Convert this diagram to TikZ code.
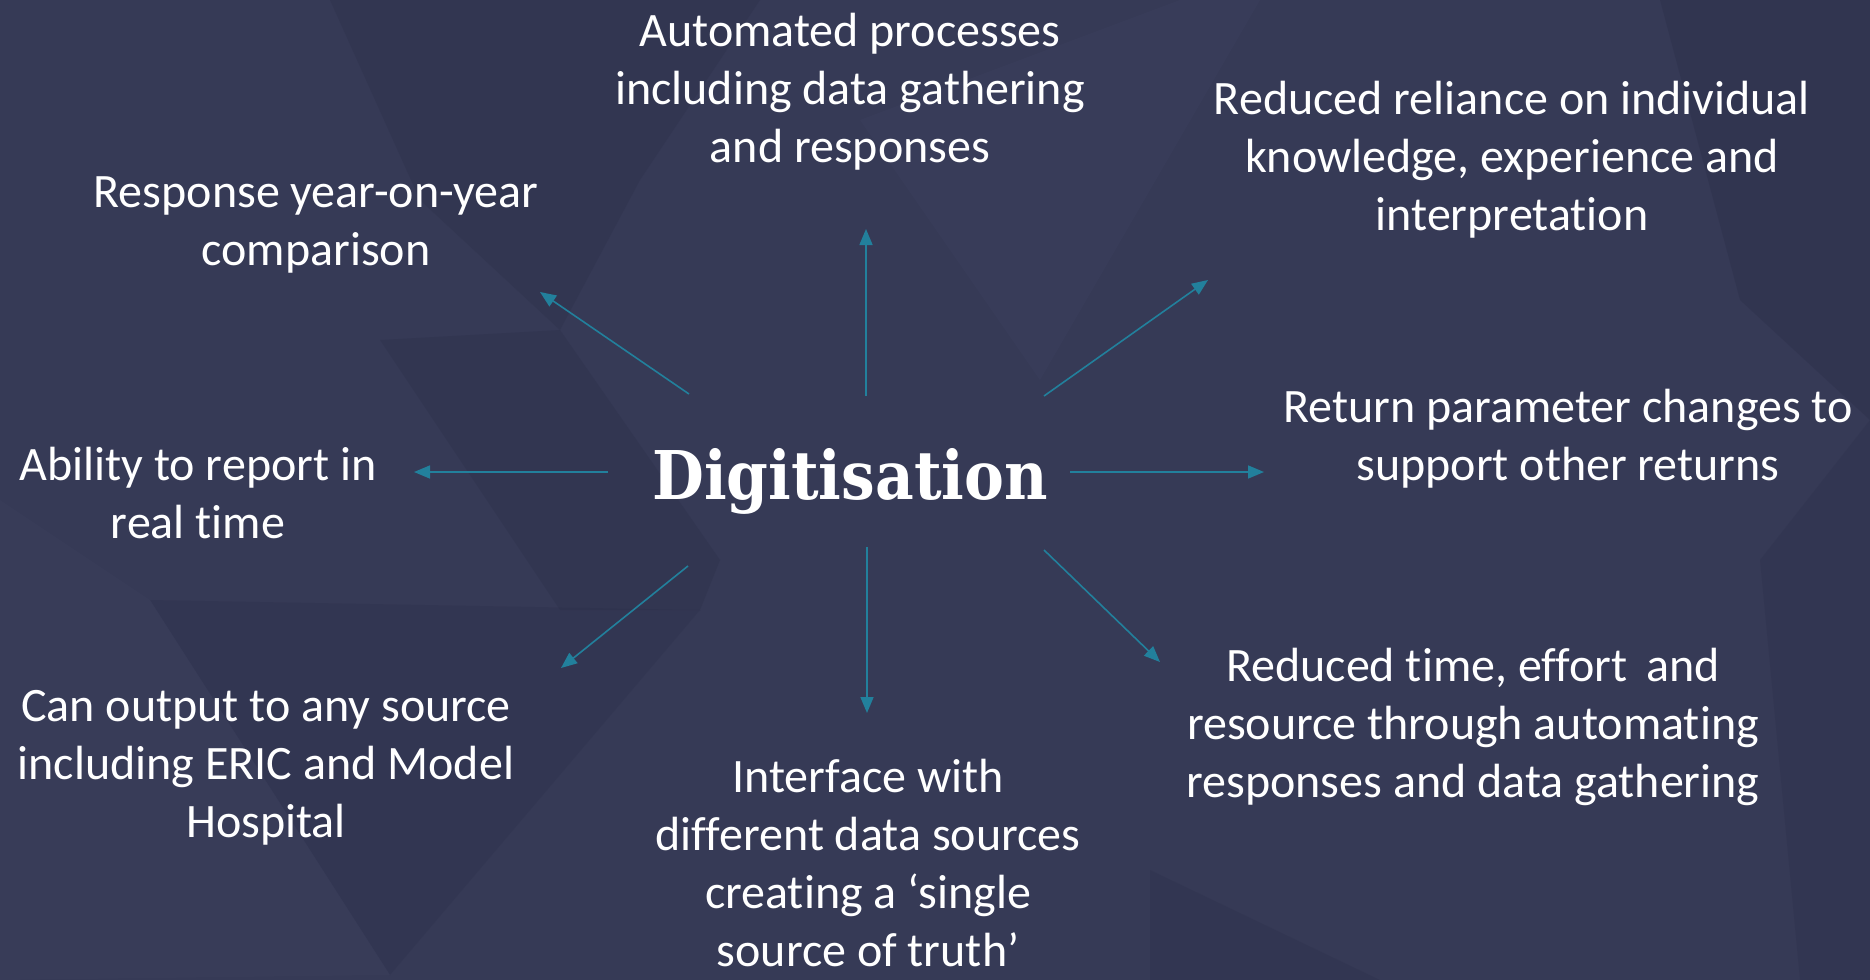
\documentclass[tikz,border=0pt]{standalone}
\usepackage{fontspec}
\setmainfont{Carlito}[Ligatures=NoCommon]
\newfontfamily\slabfont{DejaVu Serif}
\usetikzlibrary{arrows.meta}
\definecolor{bgnavy}{HTML}{363A56}
\definecolor{bgdark}{HTML}{2A2D47}
\definecolor{bglight}{HTML}{3C405E}
\definecolor{spoketeal}{HTML}{22809C}
\tikzset{
	point/.style={align=center,text=white,font=\fontsize{24}{29}\selectfont},
	spoke/.style={draw=spoketeal,line width=0.8pt,-{Triangle[length=8pt,width=6.5pt]}}
}

\begin{document}
\begin{tikzpicture}[x=0.5pt,y=-0.5pt]
	% background with faint facets
	\fill[bgnavy] (0,0) rectangle (1870,980);
	\fill[bgdark,opacity=.3] (330,0) -- (760,0) -- (640,180) -- (560,330) -- (420,200) -- cycle;
	\fill[bglight,opacity=.45] (860,120) -- (1180,0) -- (1260,0) -- (1040,380) -- cycle;
	\fill[bgdark,opacity=.35] (1660,0) -- (1870,0) -- (1870,420) -- (1740,300) -- cycle;
	\fill[bgdark,opacity=.25] (1760,560) -- (1870,420) -- (1870,980) -- (1800,980) -- cycle;
	\fill[bgdark,opacity=.3] (380,340) -- (560,330) -- (720,560) -- (700,610) -- (560,610) -- cycle;
	\fill[bgdark,opacity=.25] (150,600) -- (700,610) -- (390,975) -- cycle;
	\fill[bglight,opacity=.35] (0,500) -- (150,600) -- (390,975) -- (0,980) -- cycle;
	\fill[bgdark,opacity=.25] (1150,870) -- (1380,980) -- (1150,980) -- cycle;

	\node[font=\slabfont\bfseries\fontsize{33.6}{40}\selectfont,text=white,anchor=base] (dig) at (850,499) {\scalebox{0.89}[1]{Digitisation}};

	\node[point] (auto) at (850,92) {Automated processes\\including data gathering\\and responses};
	\node[point] (reliance) at (1512,160) {Reduced reliance on individual\\knowledge, experience and\\interpretation};
	\node[point] (yoy) at (316,225) {Response year-on-year\\comparison};
	\node[point] (params) at (1568,439) {Return parameter changes to\\support other returns};
	\node[point] (realtime) at (198,493) {Ability to report in\\real time};
	\node[point] (effort) at (1473,727) {Reduced time, effort\, and\\resource through automating\\responses and data gathering};
	\node[point] (output) at (266,768) {Can output to any source\\including ERIC and Model\\Hospital};
	\node[point] (iface) at (868,863) {Interface with\\different data sources\\creating a ‘single\\source of truth’};

	\coordinate (n0) at (866,396); \coordinate (n1) at (866,229);
	\coordinate (ne0) at (1044,396); \coordinate (ne1) at (1208,280);
	\coordinate (nw0) at (689,394); \coordinate (nw1) at (540,292);
	\coordinate (e0) at (1070,472); \coordinate (e1) at (1264,472);
	\coordinate (w0) at (608,472); \coordinate (w1) at (414,472);
	\coordinate (se0) at (1044,550); \coordinate (se1) at (1160,662);
	\coordinate (s0) at (867,547); \coordinate (s1) at (867,713);
	\coordinate (sw0) at (688,566); \coordinate (sw1) at (561,668);

	\draw[spoke] (n0) -- (n1);
	\draw[spoke] (ne0) -- (ne1);
	\draw[spoke] (nw0) -- (nw1);
	\draw[spoke] (e0) -- (e1);
	\draw[spoke] (w0) -- (w1);
	\draw[spoke] (se0) -- (se1);
	\draw[spoke] (s0) -- (s1);
	\draw[spoke] (sw0) -- (sw1);
\end{tikzpicture}
\end{document}
